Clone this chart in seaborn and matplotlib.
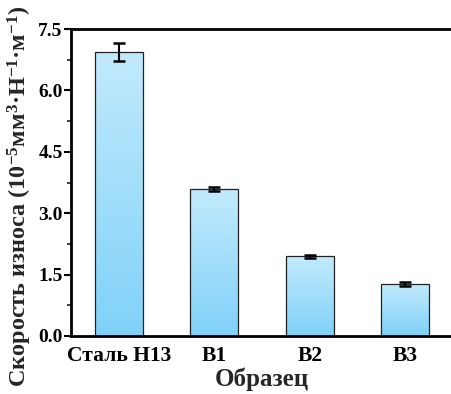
import numpy as np
import pandas as pd
import seaborn as sns
import matplotlib.pyplot as plt
from matplotlib.colors import LinearSegmentedColormap
from matplotlib.ticker import MultipleLocator

samples = ["Сталь Н13", "B1", "B2", "B3"]
wear_rate = [6.94, 3.59, 1.95, 1.27]
wear_err = [0.22, 0.05, 0.04, 0.04]

df = pd.DataFrame({"sample": samples, "rate": wear_rate, "err": wear_err})

sns.set_theme(style="ticks")
plt.rcParams["font.family"] = ["Liberation Serif", "DejaVu Serif"]
plt.rcParams["font.weight"] = "bold"
plt.rcParams["mathtext.fontset"] = "custom"
plt.rcParams["mathtext.rm"] = "Liberation Serif:bold"
plt.rcParams["mathtext.it"] = "Liberation Serif:bold"
plt.rcParams["mathtext.bf"] = "Liberation Serif:bold"

fig = plt.figure(figsize=(4.52, 3.94), dpi=100)
ax = fig.add_axes([71 / 452, 58 / 394, 382 / 452, 307 / 394])

sns.barplot(data=df, x="sample", y="rate", width=0.5, errorbar=None,
            color="#9fdcfa", edgecolor="#222222", linewidth=0.9, ax=ax)

# gradient fill, light at top, deeper blue at bottom
cmap = LinearSegmentedColormap.from_list("bl", ["#80d1f9", "#c2eafc"])
grad = np.linspace(0, 1, 256).reshape(-1, 1)
for p in ax.patches:
    x0, y0 = p.get_x(), p.get_y()
    w, h = p.get_width(), p.get_height()
    im = ax.imshow(grad, cmap=cmap, origin="lower", aspect="auto",
                   extent=(x0, x0 + w, y0, y0 + h), zorder=p.get_zorder())
    im.set_clip_path(p)
    p.set_facecolor("none")
    p.set_zorder(p.get_zorder() + 0.5)

ax.errorbar(x=range(len(samples)), y=df["rate"], yerr=df["err"], fmt="none",
            ecolor="black", elinewidth=1.5, capsize=4.5, capthick=1.8, zorder=5)

ax.set_xlim(-0.5, 3.5)
ax.set_ylim(0, 7.5)
ax.yaxis.set_major_locator(MultipleLocator(1.5))
ax.yaxis.set_minor_locator(MultipleLocator(0.75))
ax.tick_params(axis="y", which="major", direction="out", length=5, width=1.5,
               labelsize=14, pad=1, color="black", labelcolor="black")
ax.tick_params(axis="y", which="minor", direction="out", length=3, width=1.2)
ax.tick_params(axis="x", length=0, labelsize=15.5, pad=7, labelcolor="black")
for lab in ax.get_xticklabels() + ax.get_yticklabels():
    lab.set_fontweight("bold")

for side in ["left", "bottom", "top"]:
    ax.spines[side].set_visible(True)
    ax.spines[side].set_linewidth(2)
    ax.spines[side].set_color("black")
ax.spines["right"].set_visible(False)

ax.set_xlabel("Образец", fontsize=18, fontweight="bold", labelpad=1)
ax.set_ylabel("Скорость износа (10$^{-5}$мм$^{3}$·Н$^{-1}$·м$^{-1}$)",
              fontsize=17.5, fontweight="bold")
ax.yaxis.set_label_coords(-0.097, 0.456)

fig.savefig("out.png", dpi=100)
